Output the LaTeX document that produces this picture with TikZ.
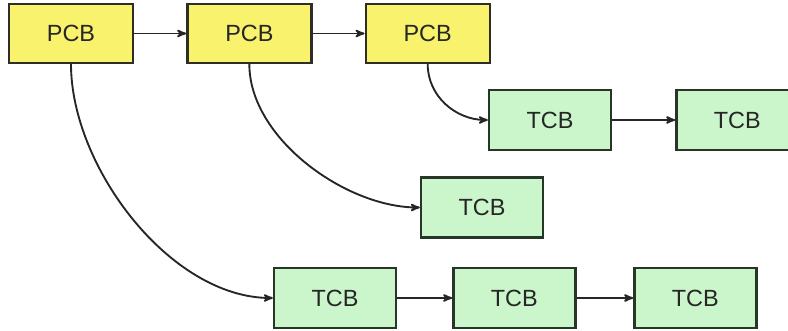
\documentclass[tikz,border=0pt]{standalone}
\usepackage{fontspec}
\setmainfont{Liberation Sans}
\usetikzlibrary{arrows, positioning}

\definecolor{pcbfill}{HTML}{F9F26C}
\definecolor{tcbfill}{HTML}{CBF5CB}
\definecolor{pcbline}{HTML}{2E2E26}
\definecolor{tcbline}{HTML}{283628}

\begin{document}
\begin{tikzpicture} [node distance=1.6cm,
		% define styles
		pcbnodestyle/.style={
			% The shape:
			rectangle,
			% The size:
			minimum width=3.72cm,
			minimum height=1.77cm,
			inner sep=0pt,
			% The border:
			line width=2pt,
			draw=pcbline,
			% The filling:
			fill=pcbfill,
			% Font
			text=black!85,
			font=\fontsize{20}{23}\selectfont
		},
		tcbnodestyle/.style={
			% The shape:
			rectangle,
			% The size:
			minimum width=3.66cm,
			minimum height=1.8cm,
			inner sep=0pt,
			% The border:
			line width=2pt,
			draw=tcbline,
			% The filling:
			fill=tcbfill,
			% Font
			text=black!85,
			font=\fontsize{20}{23}\selectfont
		},
		arrow/.style={
			->,
			% Thickness
			line width=1.6pt,
			>=stealth',
			% Color
			black!85
		}]
		% end of style definition

		\clip (0,0) rectangle (23.64,9.93);

		% draw nodes
		\node (iPcbA) [pcbnodestyle] at (2.13,8.925) {PCB};
		\node (iPcbB) [pcbnodestyle, right = 1.56cm of iPcbA] {PCB};
		\node (iPcbC) [pcbnodestyle, right = 1.56cm of iPcbB] {PCB};

		\node (iTcbA) [tcbnodestyle] at (16.5,6.33) {TCB};
		\node (iTcbB) [tcbnodestyle, right = 1.89cm of iTcbA] {TCB};

		\node (iTcbC) [tcbnodestyle] at (14.46,3.705) {TCB};

		\node (iTcbD) [tcbnodestyle] at (10.05,0.99) {TCB};
		\node (iTcbE) [tcbnodestyle, right = 1.65cm of iTcbD] {TCB};
		\node (iTcbF) [tcbnodestyle, right = 1.7cm of iTcbE] {TCB};

		% connect nodes
		\draw [arrow] (iPcbA) -- (iPcbB);
		\draw [arrow] (iPcbB) -- (iPcbC);
		\draw [arrow] (iTcbA) -- (iTcbB);
		\draw [arrow] (iTcbD) -- (iTcbE);
		\draw [arrow] (iTcbE) -- (iTcbF);

		\draw [arrow] (iPcbC.south) to[out=-90, in=180] (iTcbA.west);
		\draw [arrow] (iPcbB.south) to[out=-90, in=180, looseness=0.85] (iTcbC.west);
		\draw [arrow] (iPcbA.south) to[out=-90, in=180, looseness=0.85] (iTcbD.west);
	\end{tikzpicture}
\end{document}
